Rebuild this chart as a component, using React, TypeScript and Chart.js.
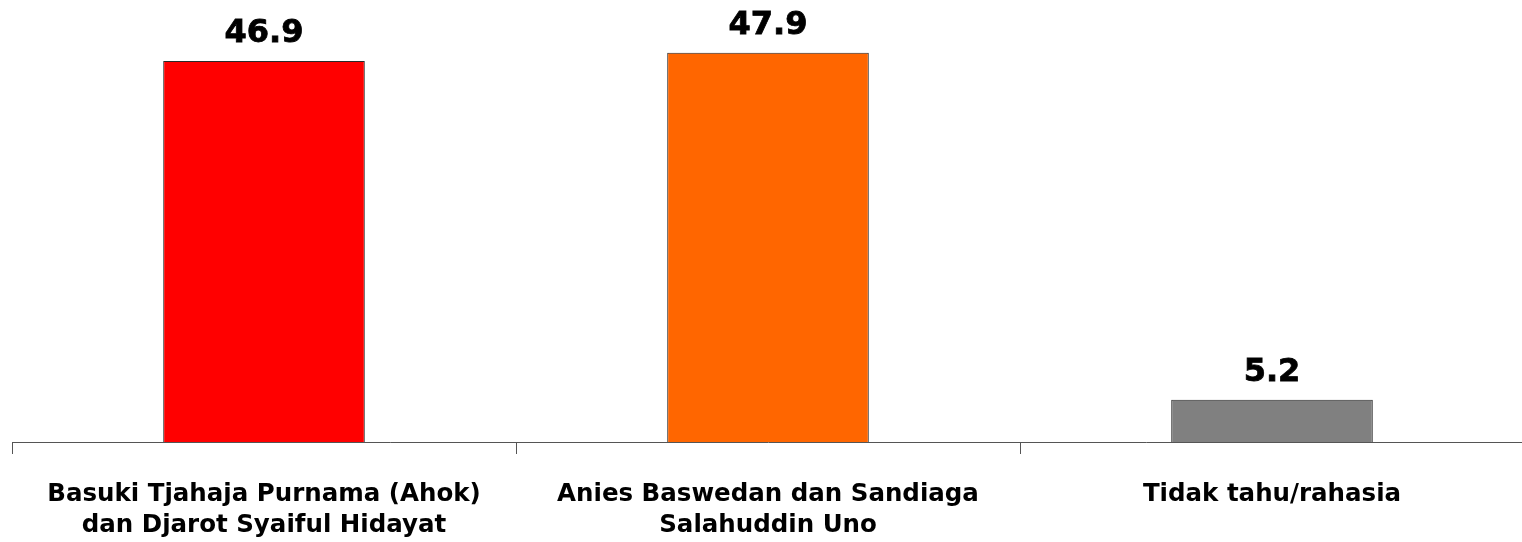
import React, { useEffect, useRef } from "react";
import { Chart, registerables } from "chart.js";

Chart.register(...registerables);

const categories: string[][] = [
  ["Basuki Tjahaja Purnama (Ahok)", "dan Djarot Syaiful Hidayat"],
  ["Anies Baswedan dan Sandiaga", "Salahuddin Uno"],
  ["Tidak tahu/rahasia"],
];
const values: number[] = [46.9, 47.9, 5.2];
const barColors: string[] = ["#FF0000", "#FF6600", "#808080"];
const valueLabels: string[] = ["46.9", "47.9", "5.2"];

const FONT = "'DejaVu Sans', Verdana, sans-serif";

const valueLabelPlugin = {
  id: "valueLabels",
  afterDatasetsDraw(chart: any) {
    const ctx = chart.ctx;
    const meta = chart.getDatasetMeta(0);
    ctx.save();
    ctx.font = `bold 32px ${FONT}`;
    ctx.fillStyle = "#000";
    ctx.strokeStyle = "#000";
    ctx.lineWidth = 0.8;
    ctx.textAlign = "center";
    ctx.textBaseline = "alphabetic";
    meta.data.forEach((el: any, i: number) => {
      ctx.fillText(valueLabels[i], el.x, el.y - 19);
      ctx.strokeText(valueLabels[i], el.x, el.y - 19);
    });
    ctx.restore();
  },
};

export default function App() {
  const ref = useRef<HTMLCanvasElement | null>(null);
  useEffect(() => {
    if (!ref.current) return;
    const chart = new Chart(ref.current, {
      type: "bar",
      data: {
        labels: categories,
        datasets: [
          {
            data: values,
            backgroundColor: barColors,
            borderColor: "#2a2a2a",
            borderWidth: 1,
            barPercentage: 0.4,
            categoryPercentage: 1,
          },
        ],
      },
      options: {
        animation: false,
        responsive: false,
        maintainAspectRatio: false,
        layout: { padding: { left: 12, right: 0, top: 0, bottom: 0 } },
        plugins: { legend: { display: false }, tooltip: { enabled: false } },
        scales: {
          x: {
            offset: true,
            grid: {
              display: true,
              offset: true,
              drawOnChartArea: false,
              drawTicks: true,
              tickLength: 12,
              color: "#555555",
            },
            border: { display: true, color: "#555555", width: 1 },
            ticks: {
              color: "#000",
              font: { family: FONT, weight: "bold", size: 24.5, lineHeight: 1.27 },
              padding: 25,
              maxRotation: 0,
              autoSkip: false,
            },
            afterFit(scale: any) {
              scale.height = 100;
            },
          },
          y: { display: false, min: 0, max: 54.4 },
        },
      },
      plugins: [valueLabelPlugin],
    } as any);
    return () => chart.destroy();
  }, []);
  return (
    <div style={{ position: "absolute", left: 0, top: 0, width: 1522, height: 542, overflow: "hidden", background: "#fff" }}>
      <canvas ref={ref} width={1524} height={542} style={{ width: 1524, height: 542, display: "block" }} />
    </div>
  );
}
